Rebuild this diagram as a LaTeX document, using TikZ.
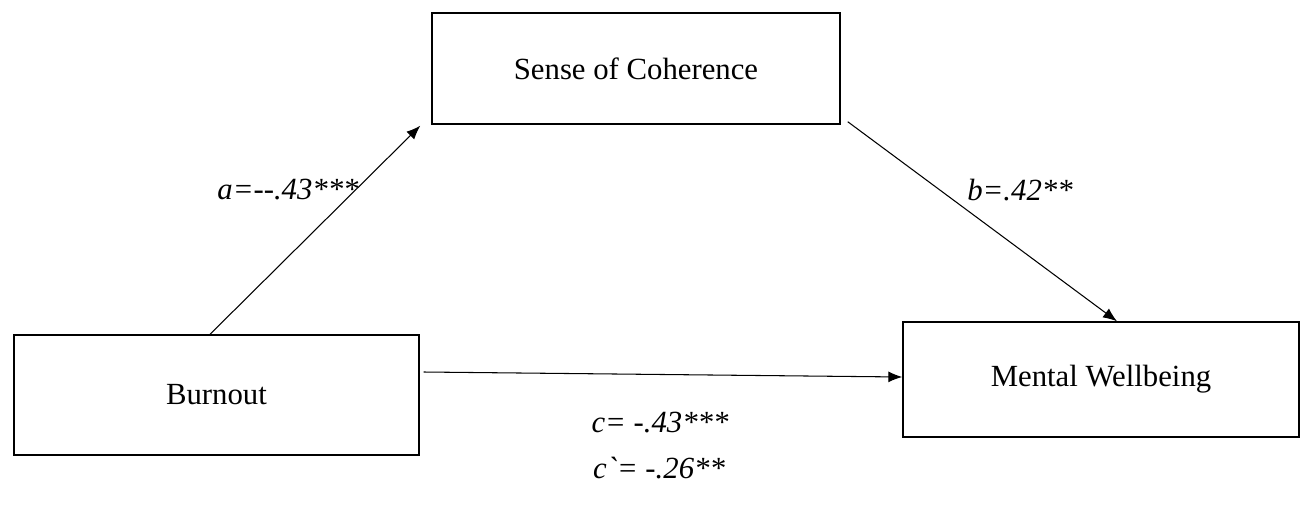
\documentclass[tikz,border=0pt]{standalone}
\usepackage{fontspec}
\setmainfont{Liberation Serif}
\usepackage{tikz}
\usetikzlibrary{arrows.meta}

\begin{document}
\begin{tikzpicture}[x=1cm,y=1cm,>={Latex[length=0.28cm,width=0.22cm]},font=\fontsize{17.5}{21}\selectfont,
  varbox/.style={draw,line width=0.8pt,inner sep=0pt},
  path/.style={->,line width=0.6pt},
  coef/.style={font=\fontsize{17.5}{21}\selectfont\itshape}]
  \useasboundingbox (0,0) rectangle (26.02,10.12);
  \node[varbox,minimum width=8.16cm,minimum height=2.22cm] (soc) at (12.72,8.75) {Sense of Coherence};
  \node[varbox,minimum width=8.1cm,minimum height=2.4cm] (burnout) at (4.33,2.22) {Burnout};
  \node[varbox,minimum width=7.92cm,minimum height=2.3cm] (mwb) at (22.02,2.53) {Mental Wellbeing};
  \coordinate (aend) at ([shift={(-0.22,-0.02)}]soc.south west);
  \coordinate (bstart) at ([shift={(0.14,0.06)}]soc.south east);
  \draw[path] ([xshift=-0.13cm]burnout.north) -- (aend);
  \draw[path] (bstart) -- ([xshift=0.32cm]mwb.north);
  \draw[path] ([shift={(0.08cm,0.46cm)}]burnout.east) -- ([yshift=0.05cm]mwb.west);
  \node[coef] (alab) at (5.76,6.32) {a=-{}-.43***};
  \node[coef] (blab) at (20.4,6.32) {b=.42**};
  \node[coef] (clab) at (13.2,1.66) {c= -.43***};
  \node[coef] (cplab) at (13.18,0.76) {c\textasciigrave= -.26**};
\end{tikzpicture}
\end{document}
